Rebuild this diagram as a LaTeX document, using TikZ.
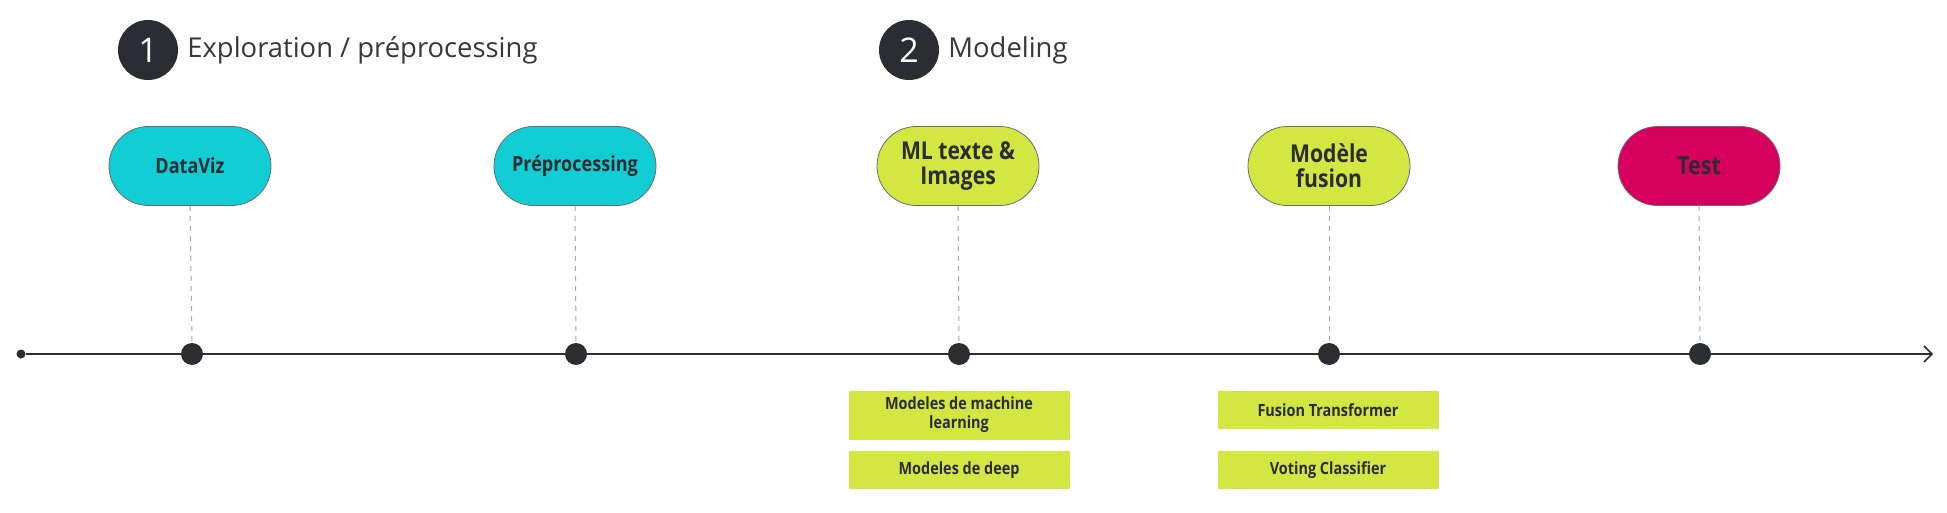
\documentclass[tikz,border=0pt]{standalone}
\usepackage{fontspec}
\setmainfont{Open Sans}
\newfontfamily\lblfont[FakeStretch=0.86]{Open Sans}
\usetikzlibrary{arrows.meta}
\definecolor{cyanpill}{HTML}{12CDD4}
\definecolor{limepill}{HTML}{D2E741}
\definecolor{magpill}{HTML}{D7005F}
\definecolor{darkdot}{HTML}{2B2D33}
\definecolor{dashgray}{HTML}{A8A8A8}
\tikzset{
  pill/.style={draw=darkdot!70, line width=0.4pt, minimum width=81pt, minimum height=39.5pt, rounded corners=19.7pt, align=center, inner sep=0pt, font=\lblfont\bfseries\fontsize{10.5}{12}\selectfont, text=darkdot},
  bigpill/.style={pill, font=\lblfont\bfseries\fontsize{12.3}{12.6}\selectfont},
  tdot/.style={circle, fill=darkdot, minimum size=11pt, inner sep=0pt},
  numcirc/.style={circle, fill=darkdot, minimum size=30pt, inner sep=0pt, text=white, font=\fontsize{17}{20}\selectfont},
  heading/.style={anchor=west, inner sep=0pt, text=darkdot!95, font=\fontsize{13.7}{16}\selectfont},
  subbox/.style={fill=limepill, minimum width=110.5pt, align=center, inner sep=0pt, font=\lblfont\bfseries\fontsize{8.4}{9.5}\selectfont, text=darkdot},
  vdash/.style={draw=dashgray, line width=0.5pt, dash pattern=on 2.5pt off 2.5pt},
  axis/.style={draw=darkdot, line width=0.8pt}
}
\begin{document}
\begin{tikzpicture}[x=0.5pt,y=-0.5pt]
\useasboundingbox (0,0) rectangle (1947,513);
% headings
\node[numcirc] (n1) at (148,50) {1};
\node[heading] (h1) at (187,50) {Exploration / préprocessing};
\node[numcirc] (n2) at (909,50) {2};
\node[heading] (h2) at (948,50) {Modeling};
% axis
\node[circle, fill=darkdot, minimum size=4.5pt, inner sep=0pt] (start) at (21,354) {};
\coordinate (end) at (1933,354);
\draw[axis, -{Straight Barb[length=4pt,width=8pt]}] (start) -- (end);
% dots
\node[tdot] (d1) at (192,354) {};
\node[tdot] (d2) at (576,354) {};
\node[tdot] (d3) at (959,354) {};
\node[tdot] (d4) at (1329,354) {};
\node[tdot] (d5) at (1700,354) {};
% pills
\node[pill, fill=cyanpill] (p1) at (190,166) {DataViz};
\node[pill, fill=cyanpill] (p2) at (575,166) {Préprocessing};
\node[bigpill, fill=limepill] (p3) at (958,166) {ML texte \&\\Images};
\node[bigpill, fill=limepill] (p4) at (1329,166) {Modèle\\fusion};
\node[pill, fill=magpill, font=\lblfont\bfseries\fontsize{12.5}{14}\selectfont] (p5) at (1699,166) {Test};
% dashed connectors
\draw[vdash] (p1.south) -- (d1.north);
\draw[vdash] (p2.south) -- (d2.north);
\draw[vdash] (p3.south) -- (d3.north);
\draw[vdash] (p4.south) -- (d4.north);
\draw[vdash] (p5.south) -- (d5.north);
% sub boxes
\node[subbox, minimum height=24.5pt] (b1) at (959,415) {Modeles de machine\\learning};
\node[subbox, minimum height=19pt] (b2) at (959,470) {Modeles de deep};
\node[subbox, minimum height=19pt] (b3) at (1328,410) {Fusion Transformer};
\node[subbox, minimum height=19pt] (b4) at (1328,470) {Voting Classifier};
\end{tikzpicture}
\end{document}
